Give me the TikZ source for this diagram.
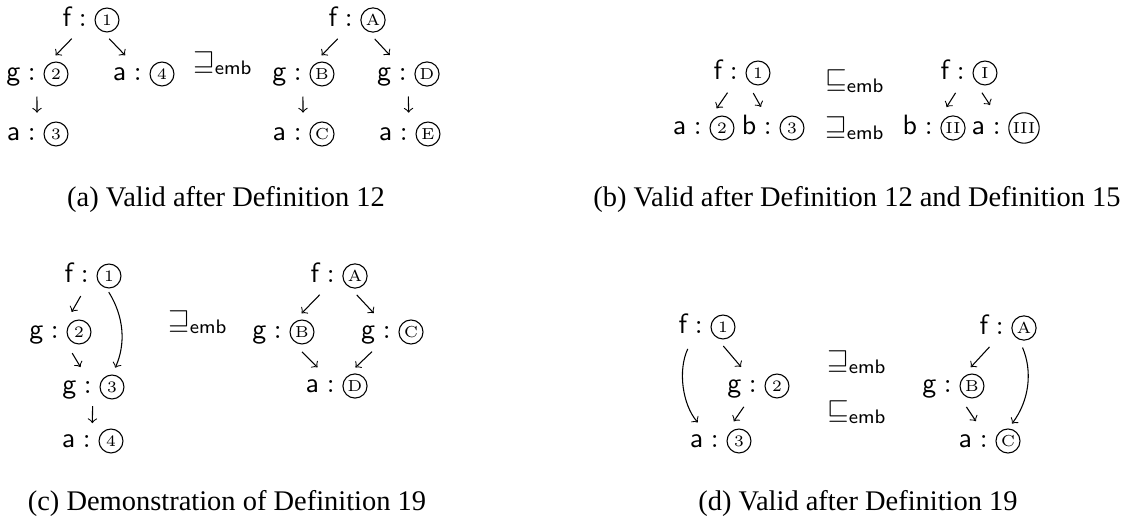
\RequirePackage{fix-cm}
\documentclass[tikz,border=0pt]{standalone}
\usepackage{amsmath}
\usepackage{fontspec}
\newfontfamily\capfont{Liberation Serif}
\usetikzlibrary{fit}

\begin{document}
\begin{tikzpicture}[x=0.376pt, y=-0.376pt, >=to,
  cn/.style={circle, draw, inner sep=0.8pt, minimum size=9pt, outer sep=0pt, font=\fontsize{6}{7}\selectfont},
  lab/.style={anchor=base east, inner sep=0pt, font=\fontsize{10.5}{12}\selectfont},
  ent/.style={inner sep=0pt, outer sep=0pt},
  rel/.style={anchor=base, inner sep=0pt, font=\fontsize{10.5}{12}\selectfont},
  arr/.style={->, shorten <=3.5pt, shorten >=3.5pt},
  subcap/.style={anchor=base, inner sep=0pt, font=\capfont\fontsize{10.7}{13}\selectfont}]

  \useasboundingbox (0,0) rectangle (1131,522);

  % 结点：圆圈编号，左边是标签
  \foreach \name/\pos/\sym/\num in {
      a1/{107,20}/f/1, a2/{56,74}/g/2, a3/{56,134}/a/3, a4/{162,74}/a/4,
      aA/{373,20}/f/A, aB/{322,74}/g/B, aC/{322,134}/a/C, aD/{427,74}/g/D, aE/{428,134}/a/E,
      b1/{758,73}/f/1, b2/{722,128}/a/2, b3/{792,128}/b/3,
      bi/{985,73}/f/I, bii/{953,128}/b/II, biii/{1024,128}/a/III,
      c1/{109,276}/f/1, c2/{79,332}/g/2, c3/{112,387}/g/3, c4/{111,441}/a/4,
      cA/{355,276}/f/A, cB/{302,332}/g/B, cC/{411,332}/g/C, cD/{355,386}/a/D,
      d1/{723,327}/f/1, d2/{777,386}/g/2, d3/{739,441}/a/3,
      dA/{1024,328}/f/A, dB/{972,386}/g/B, dC/{1008,441}/a/C} {
    \node[cn] (\name) at (\pos) {\num};
    \node[lab] (l\name) at ([yshift=-2.6pt]\name.west) {$\mathsf{\sym}:{}$};
    \node[ent, fit=(\name)(l\name)] (e\name) {};
  }

  % 直箭头
  \foreach \s/\e in {a1/a2, a1/a4, a2/a3, aA/aB, aA/aD, aB/aC, aD/aE,
      b1/b2, b1/b3, bi/bii, bi/biii,
      c1/c2, c2/c3, cA/cB, cA/cC, cB/cD, cC/cD,
      d1/d2, d2/d3, dA/dB, dB/dC} {
    \draw[arr] (e\s) -- (e\e);
  }
  \draw[arr, shorten <=2.2pt, shorten >=2.2pt] (ec3) -- (ec4);

  % 弯箭头
  \draw[arr, shorten <=2pt, shorten >=3pt] (c1.255) to[bend left=28] (c3.north);
  \draw[arr, shorten <=6pt, shorten >=6pt] (ld1.south) to[bend right=33] (ld3.north);
  \draw[arr, shorten <=3.5pt, shorten >=2.5pt] (dA.245) to[bend left=30] (dC.north);

  % 关系符号
  \node[rel] (ra) at (223,70) {$\sqsupseteq_{\mathsf{emb}}$};
  \node[rel] (rb1) at (855,88) {$\sqsubseteq_{\mathsf{emb}}$};
  \node[rel] (rb2) at (855,135) {$\sqsupseteq_{\mathsf{emb}}$};
  \node[rel] (rc) at (198,329) {$\sqsupseteq_{\mathsf{emb}}$};
  \node[rel] (rd1) at (857,369) {$\sqsupseteq_{\mathsf{emb}}$};
  \node[rel] (rd2) at (857,419) {$\sqsubseteq_{\mathsf{emb}}$};

  % 子图标题
  \node[subcap] (capa) at (226,207) {(a) Valid after Definition 12};
  \node[subcap] (capb) at (857,207) {(b) Valid after Definition 12 and Definition 15};
  \node[subcap] (capc) at (227,511) {(c) Demonstration of Definition 19};
  \node[subcap] (capd) at (858,511) {(d) Valid after Definition 19};

\end{tikzpicture}
\end{document}
